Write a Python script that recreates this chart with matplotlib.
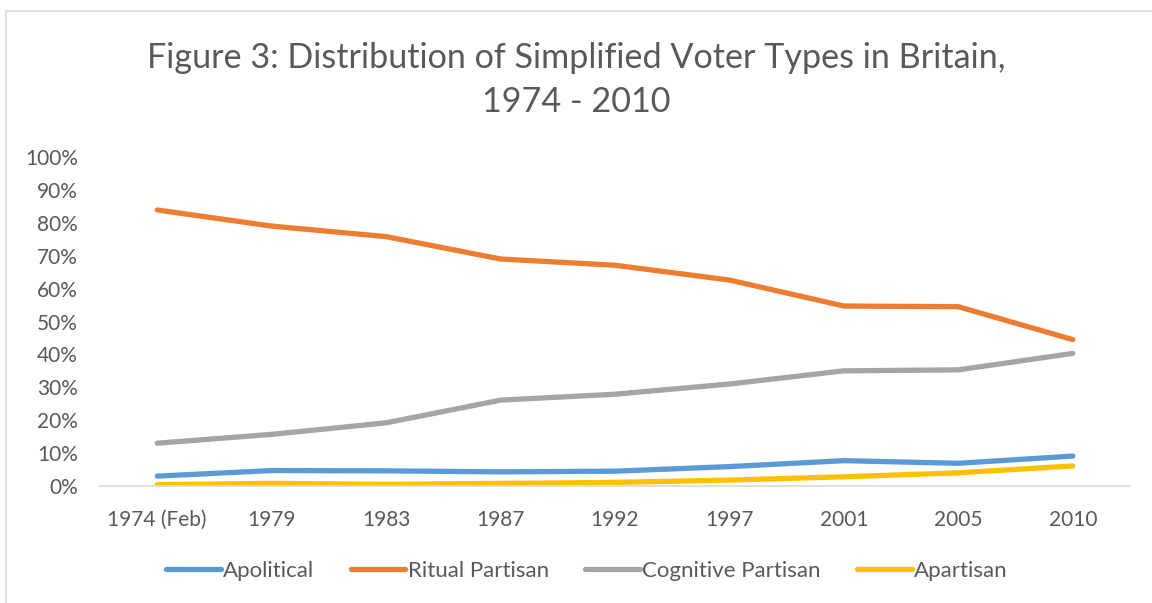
import matplotlib
matplotlib.use("Agg")
import matplotlib.pyplot as plt
from matplotlib.patches import Rectangle
from matplotlib.ticker import PercentFormatter

plt.rcParams['font.family'] = ['Lato', 'DejaVu Sans']

categories = ["1974 (Feb)", "1979", "1983", "1987", "1992", "1997", "2001", "2005", "2010"]
apolitical = [3.0, 4.7, 4.6, 4.3, 4.5, 5.9, 7.7, 6.9, 9.1]
ritual_partisan = [83.9, 79.0, 75.8, 69.0, 67.1, 62.6, 54.7, 54.5, 44.5]
cognitive_partisan = [13.0, 15.7, 19.2, 26.1, 27.9, 31.0, 35.0, 35.3, 40.3]
apartisan = [0.4, 0.8, 0.5, 0.8, 1.1, 1.8, 2.8, 4.0, 6.1]

series = [
    ("Apolitical", apolitical, "#5B9BD5"),
    ("Ritual Partisan", ritual_partisan, "#ED7D31"),
    ("Cognitive Partisan", cognitive_partisan, "#A5A5A5"),
    ("Apartisan", apartisan, "#FFC000"),
]

text_color = "#595959"
W, H = 1152, 603
fig = plt.figure(figsize=(W / 100, H / 100), dpi=100)

# chart frame
fig.patches.append(Rectangle((6 / W, -0.05), 1.2, 1 - 11 / H + 0.05,
                             transform=fig.transFigure, fill=False,
                             edgecolor="#D9D9D9", linewidth=1.2))

ax = fig.add_axes([100 / W, 1 - 486 / H, 1030 / W, (486 - 157) / H])
x = list(range(len(categories)))
for name, vals, color in series:
    ax.plot(x, vals, color=color, linewidth=3.8, label=name,
            solid_capstyle="round", solid_joinstyle="round")

ax.set_xlim(-0.5, len(categories) - 0.5)
ax.set_ylim(0, 100)
ax.set_yticks(range(0, 101, 10))
ax.yaxis.set_major_formatter(PercentFormatter(decimals=0))
ax.set_xticks(x)
ax.set_xticklabels(categories)
for s in ["top", "right", "left"]:
    ax.spines[s].set_visible(False)
ax.spines["bottom"].set_color("#D9D9D9")
ax.spines["bottom"].set_linewidth(1.2)
ax.tick_params(axis="both", length=0, labelsize=15, labelcolor=text_color)
ax.tick_params(axis="x", pad=17)
ax.tick_params(axis="y", pad=16)

fig.text(0.5, 1 - 80 / H, "Figure 3: Distribution of Simplified Voter Types in Britain,\n1974 - 2010",
         ha="center", va="center", fontsize=24.6, color=text_color, linespacing=1.45)

leg = fig.legend(loc="center", bbox_to_anchor=(0.5095, 1 - 571 / H), ncol=4,
                 frameon=False, fontsize=16, handlelength=2.45, handletextpad=0.1,
                 columnspacing=1.65)
for t in leg.get_texts():
    t.set_color(text_color)
for h in leg.get_lines():
    h.set_linewidth(3.8)
    h.set_solid_capstyle("round")

fig.savefig("out.png", dpi=100, facecolor="white")
